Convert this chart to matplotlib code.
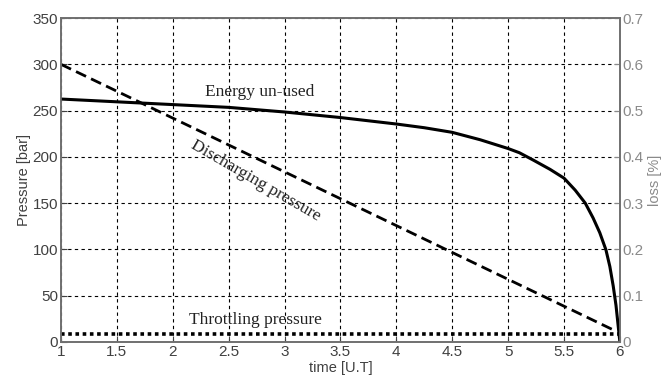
import numpy as np
import matplotlib.pyplot as plt

# time axis [U.T]
t_energy = [1.0, 1.5, 2.0, 2.5, 3.0, 3.5, 4.0, 4.25, 4.5, 4.75, 5.0, 5.1, 5.225,
            5.375, 5.5, 5.6, 5.69, 5.76, 5.82, 5.875, 5.91, 5.94, 5.965, 5.98,
            5.993, 6.0]
loss_energy = [0.525, 0.519, 0.513, 0.507, 0.497, 0.485, 0.471, 0.463, 0.453,
               0.437, 0.418, 0.409, 0.393, 0.373, 0.354, 0.328, 0.300, 0.268,
               0.236, 0.199, 0.163, 0.121, 0.079, 0.045, 0.015, 0.0]

t_discharge = [1.0, 5.94]
p_discharge = [300, 13]

t_throttle = [1.0, 6.0]
p_throttle = [8, 8]

x_ticks = [1, 1.5, 2, 2.5, 3, 3.5, 4, 4.5, 5, 5.5, 6]
y_ticks = [0, 50, 100, 150, 200, 250, 300, 350]
loss_ticks = [0, 0.1, 0.2, 0.3, 0.4, 0.5, 0.6, 0.7]

dark = '#404040'
light = '#8a8a8a'

fig = plt.figure(figsize=(6.63, 3.85), dpi=100)
ax = fig.add_axes([0.092, 0.112, 0.843, 0.841])

ax.plot(t_discharge, p_discharge, color='k', lw=2.0, linestyle=(0, (4, 2)))
ax.plot(t_throttle, p_throttle, color='k', lw=2.6, linestyle=(0, (1, 1)))

ax.set_xlim(1, 6)
ax.set_ylim(0, 350)
ax.set_xticks(x_ticks)
ax.set_xticklabels([f"{v:g}" for v in x_ticks])
ax.set_yticks(y_ticks)
ax.grid(True, color='k', linestyle=(0, (3, 3)), linewidth=0.8)
ax.tick_params(direction='in', length=4, labelsize=11, colors=dark, pad=2)
for s in ax.spines.values():
    s.set_color('#707070')
    s.set_linewidth(1.2)
ax.set_xlabel('time [U.T]', fontsize=10.5, color=dark, family='Liberation Sans', labelpad=2)
ax.set_ylabel('Pressure [bar]', fontsize=10.5, color=dark, family='Liberation Sans', labelpad=1)
for lab in ax.get_xticklabels() + ax.get_yticklabels():
    lab.set_family('Liberation Sans')

ax2 = ax.twinx()
ax2.plot(t_energy, loss_energy, color='k', lw=2.2, solid_joinstyle='round')
ax2.set_ylim(0, 0.7)
ax2.set_yticks(loss_ticks)
ax2.set_yticklabels([f"{v:g}" for v in loss_ticks])
ax2.tick_params(direction='in', length=4, labelsize=11, colors=light, pad=2)
for s in ax2.spines.values():
    s.set_color('#707070')
    s.set_linewidth(1.2)
ax2.set_ylabel('loss [%]', fontsize=10.5, color=light, family='Liberation Sans', labelpad=3)
for lab in ax2.get_yticklabels():
    lab.set_family('Liberation Sans')

serif = dict(family='Liberation Serif', fontsize=12.5, color='#222222')
ax.text(2.78, 270, 'Energy un-used', ha='center', va='center', **serif)
ax.text(2.74, 174, 'Discharging pressure', ha='center', va='center', rotation=-30, **serif)
ax.text(2.74, 23.5, 'Throttling pressure', ha='center', va='center', **serif)

fig.savefig('out.png', dpi=100)
